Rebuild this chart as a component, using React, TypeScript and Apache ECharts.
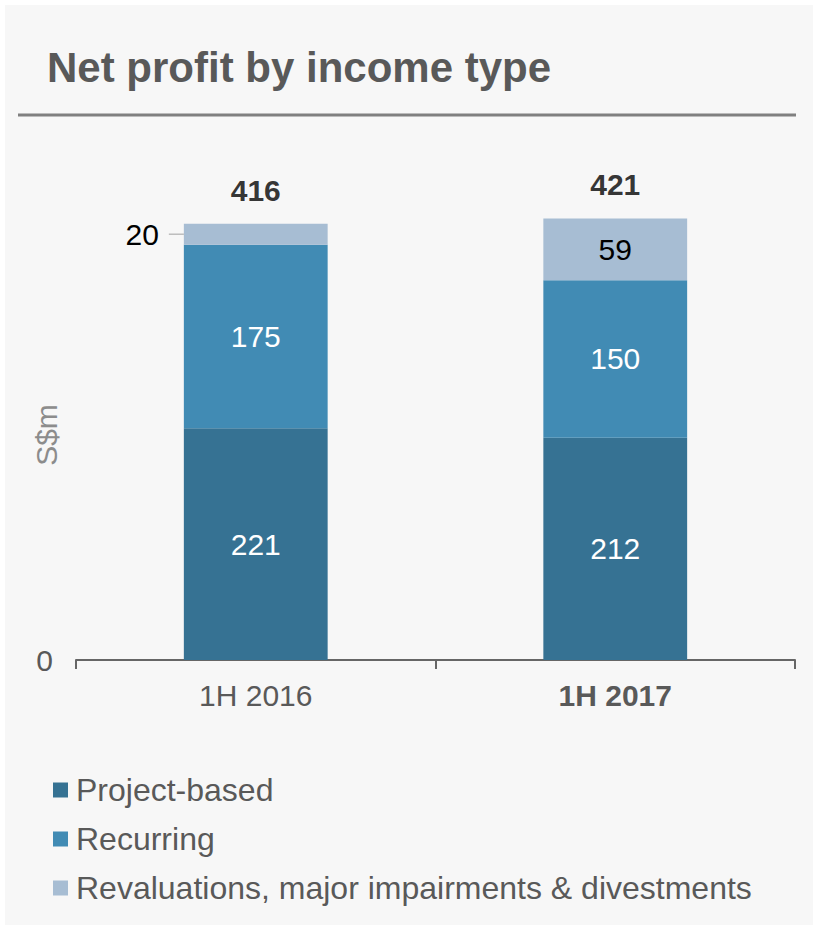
import React, { useEffect, useRef } from "react";
import * as echarts from "echarts";

const categories = ["1H 2016", "1H 2017"];
const projectBased = [221, 212];
const recurring = [175, 150];
const revaluations = [20, 59];
const totals = [416, 421];
const seriesNames = ["Project-based", "Recurring", "Revaluations, major impairments & divestments"];

const FONT = "'Liberation Sans', Arial, sans-serif";

export default function App() {
  const ref = useRef<HTMLDivElement>(null);
  useEffect(() => {
    document.body.style.margin = "0";
    const chart = echarts.init(ref.current!, null, { renderer: "svg" });
    const option: any = {
      animation: false,
      backgroundColor: "#ffffff",
      textStyle: { fontFamily: FONT },
      title: {
        text: "Net profit by income type",
        left: 42,
        top: 41,
        textStyle: { fontFamily: FONT, fontSize: 42, fontWeight: "bold", color: "#595959" },
      },
      graphic: [
        {
          type: "rect",
          z: -10,
          shape: { x: 5, y: 5, width: 808, height: 920 },
          style: { fill: "#f7f7f7" },
        },
        {
          type: "line",
          shape: { x1: 18, y1: 115, x2: 796, y2: 115 },
          style: { stroke: "#808080", lineWidth: 3 },
        },
      ],
      legend: {
        orient: "vertical",
        left: 48,
        top: 769,
        itemWidth: 15,
        itemHeight: 15,
        itemGap: 17,
        icon: "rect",
        textStyle: { fontFamily: FONT, fontSize: 32, color: "#595959", padding: [0, 0, 0, 3] },
        data: seriesNames,
      },
      grid: { left: 76, right: 18, top: 188, bottom: 265, containLabel: false, outerBoundsMode: "none" },
      xAxis: {
        type: "category",
        data: categories,
        axisLine: { lineStyle: { color: "#666666", width: 2 } },
        axisTick: { show: true, length: 9, lineStyle: { color: "#666666", width: 2 } },
        axisLabel: {
          margin: 20,
          formatter: (v: string) => (v === "1H 2017" ? `{b|${v}}` : `{n|${v}}`),
          rich: {
            n: { fontFamily: FONT, fontSize: 30, color: "#595959" },
            b: { fontFamily: FONT, fontSize: 30, color: "#595959", fontWeight: "bold" },
          },
        },
      },
      yAxis: {
        type: "value",
        min: 0,
        max: 450,
        interval: 450,
        name: "S$m",
        nameLocation: "middle",
        nameGap: 15,
        nameMoveOverlap: false,
        nameRotate: 90,
        nameTextStyle: { fontFamily: FONT, fontSize: 30, color: "#8c8c8c", padding: [0, 22, 0, 0] },
        axisLine: { show: false },
        axisTick: { show: false },
        splitLine: { show: false },
        axisLabel: {
          margin: 23,
          padding: [18, 0, 0, 0],
          fontFamily: FONT,
          fontSize: 30,
          color: "#595959",
          formatter: (v: number) => (v === 0 ? "0" : ""),
        },
      },
      series: [
        {
          name: seriesNames[0],
          type: "bar",
          stack: "total",
          barCategoryGap: "60%",
          itemStyle: { color: "#367293" },
          label: { show: true, position: "inside", color: "#ffffff", fontSize: 30, fontFamily: FONT },
          data: projectBased,
        },
        {
          name: seriesNames[1],
          type: "bar",
          stack: "total",
          barCategoryGap: "60%",
          itemStyle: { color: "#418bb4" },
          label: { show: true, position: "inside", color: "#ffffff", fontSize: 30, fontFamily: FONT },
          data: recurring,
        },
        {
          name: seriesNames[2],
          type: "bar",
          stack: "total",
          barCategoryGap: "60%",
          itemStyle: { color: "#a7bdd3" },
          label: { show: true, position: "inside", color: "#000000", fontSize: 30, fontFamily: FONT },
          data: revaluations.map((v, i) =>
            i === 0
              ? {
                  value: v,
                  label: {
                    show: true,
                    position: "left",
                    distance: 0,
                    formatter: "{v|{c}}{s|}{l|}",
                    rich: {
                      v: { fontFamily: FONT, fontSize: 30, color: "#000000" },
                      s: { width: 10, height: 1 },
                      l: { width: 15, height: 1, backgroundColor: "#a0a0a0" },
                    },
                  },
                }
              : v
          ),
        },
        {
          name: "Total",
          type: "scatter",
          symbolSize: 1,
          itemStyle: { color: "rgba(0,0,0,0)" },
          label: {
            show: true,
            position: "top",
            distance: 18,
            color: "#000000",
            fontSize: 30,
            fontWeight: "bold",
            fontFamily: FONT,
          },
          data: totals,
          z: 10,
        },
      ],
    };
    chart.setOption(option);
    return () => chart.dispose();
  }, []);
  return <div ref={ref} style={{ width: 813, height: 925 }} />;
}
